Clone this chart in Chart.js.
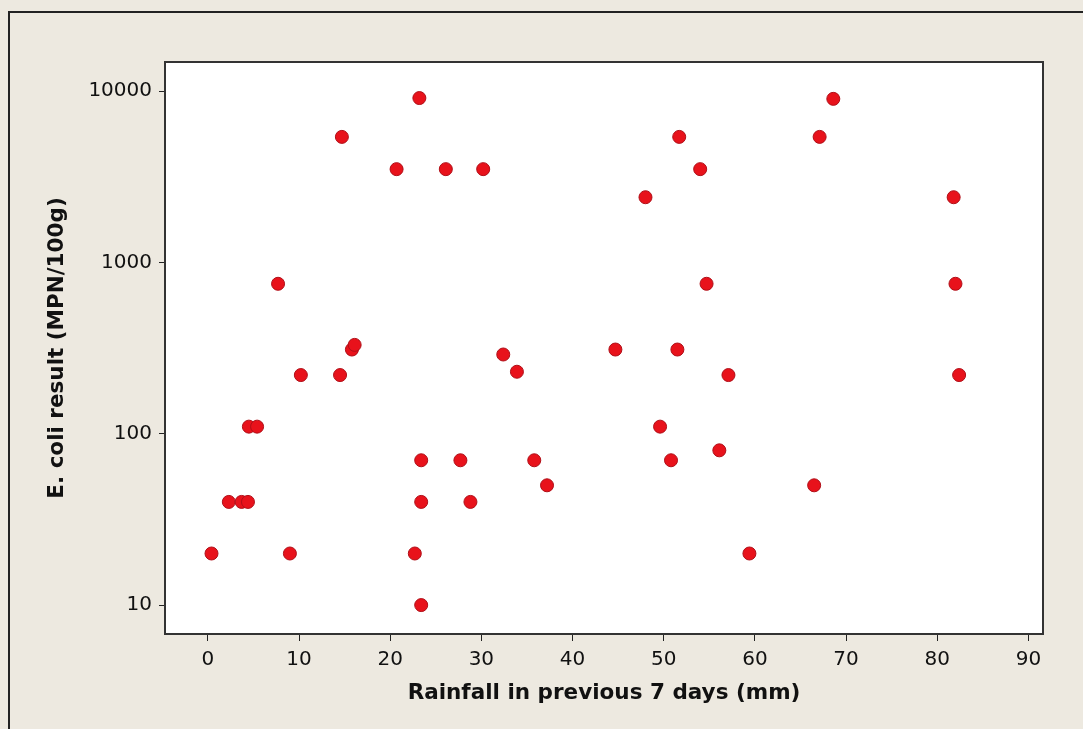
<!DOCTYPE html>
<html>
<head>
<meta charset="utf-8">
<script src="https://cdn.jsdelivr.net/npm/chart.js@4/dist/chart.umd.min.js"></script>
<style>
    html, body { margin: 0; padding: 0; background: #ede9e0; }
    #wrap { position: relative; width: 1083px; height: 729px; }
    #frame {
        position: absolute; left: 8px; top: 11px; right: 0; bottom: 0;
        border-left: 2px solid #222; border-top: 2px solid #222;
    }
    canvas { position: absolute; left: 0; top: 0; }
</style>
</head>
<body>
<div id="wrap">
    <div id="frame"></div>
    <canvas id="chart" width="1083" height="729"></canvas>
</div>
<script>
// Rainfall in previous 7 days (mm) and E. coli result (MPN/100g)
const rainfall = [
    0.4, 9.0, 2.3, 3.7, 4.4, 4.5, 5.4, 7.7, 10.2, 14.5,
    15.8, 16.1, 14.7, 20.7, 23.2, 26.1, 30.2, 22.7, 23.4, 23.4,
    23.4, 27.7, 28.8, 32.4, 33.9, 35.8, 37.2, 44.7, 48.0, 49.6,
    50.8, 51.5, 51.7, 54.0, 54.7, 56.1, 57.1, 59.4, 66.5, 67.1,
    68.6, 81.8, 82.0, 82.4
];
const ecoli = [
    20, 20, 40, 40, 40, 110, 110, 750, 220, 220,
    310, 330, 5400, 3500, 9100, 3500, 3500, 20, 10, 70,
    40, 70, 40, 290, 230, 70, 50, 310, 2400, 110,
    70, 310, 5400, 3500, 750, 80, 220, 20, 50, 5400,
    9000, 2400, 750, 220
];
const xTicks = [0, 10, 20, 30, 40, 50, 60, 70, 80, 90];
const yTicks = [10, 100, 1000, 10000];

const points = rainfall.map((x, i) => ({ x: x, y: ecoli[i] }));

// white plot area with a dark box round it
const plotBox = {
    id: 'plotBox',
    beforeDatasetsDraw(chart) {
        const { ctx, chartArea: a } = chart;
        ctx.save();
        ctx.fillStyle = '#ffffff';
        ctx.fillRect(a.left, a.top, a.right - a.left, a.bottom - a.top);
        ctx.restore();
    },
    afterDatasetsDraw(chart) {
        const { ctx, chartArea: a } = chart;
        ctx.save();
        ctx.strokeStyle = '#333';
        ctx.lineWidth = 2;
        ctx.strokeRect(a.left, a.top, a.right - a.left, a.bottom - a.top);
        ctx.restore();
    }
};

const tickFont = { family: 'DejaVu Sans', size: 20 };
const titleFont = { family: 'DejaVu Sans', size: 21.5, weight: 'bold' };

new Chart(document.getElementById('chart'), {
    type: 'scatter',
    data: {
        datasets: [{
            data: points,
            backgroundColor: '#e8121b',
            borderColor: '#b00f18',
            borderWidth: 1,
            pointRadius: 6.5,
            pointHoverRadius: 6.5
        }]
    },
    options: {
        responsive: false,
        animation: false,
        layout: { padding: { top: 62, right: 40, left: 0, bottom: 0 } },
        plugins: { legend: { display: false }, tooltip: { enabled: false } },
        scales: {
            x: {
                type: 'linear',
                min: -4.7,
                max: 91.6,
                afterBuildTicks: axis => { axis.ticks = xTicks.map(v => ({ value: v })); },
                afterFit: axis => { axis.height = 95; },
                grid: { drawOnChartArea: false, drawTicks: true, tickLength: 7, color: '#222' },
                border: { display: true, color: '#222', width: 2 },
                ticks: { color: '#111', font: tickFont, padding: 7, maxRotation: 0 },
                title: {
                    display: true,
                    text: 'Rainfall in previous 7 days (mm)',
                    color: '#111',
                    font: titleFont,
                    padding: { top: 0, bottom: 23 }
                }
            },
            y: {
                type: 'logarithmic',
                min: 6.78,
                max: 14770,
                afterBuildTicks: axis => { axis.ticks = yTicks.map(v => ({ value: v })); },
                afterFit: axis => { axis.width = 165; },
                grid: { drawOnChartArea: false, drawTicks: true, tickLength: 6, color: '#222' },
                border: { display: true, color: '#222', width: 2 },
                ticks: { color: '#111', font: tickFont, padding: 7, callback: v => String(v) },
                title: {
                    display: true,
                    text: 'E. coli result (MPN/100g)',
                    color: '#111',
                    font: titleFont,
                    padding: { top: 45, bottom: 0 }
                }
            }
        }
    },
    plugins: [plotBox]
});
</script>
</body>
</html>
